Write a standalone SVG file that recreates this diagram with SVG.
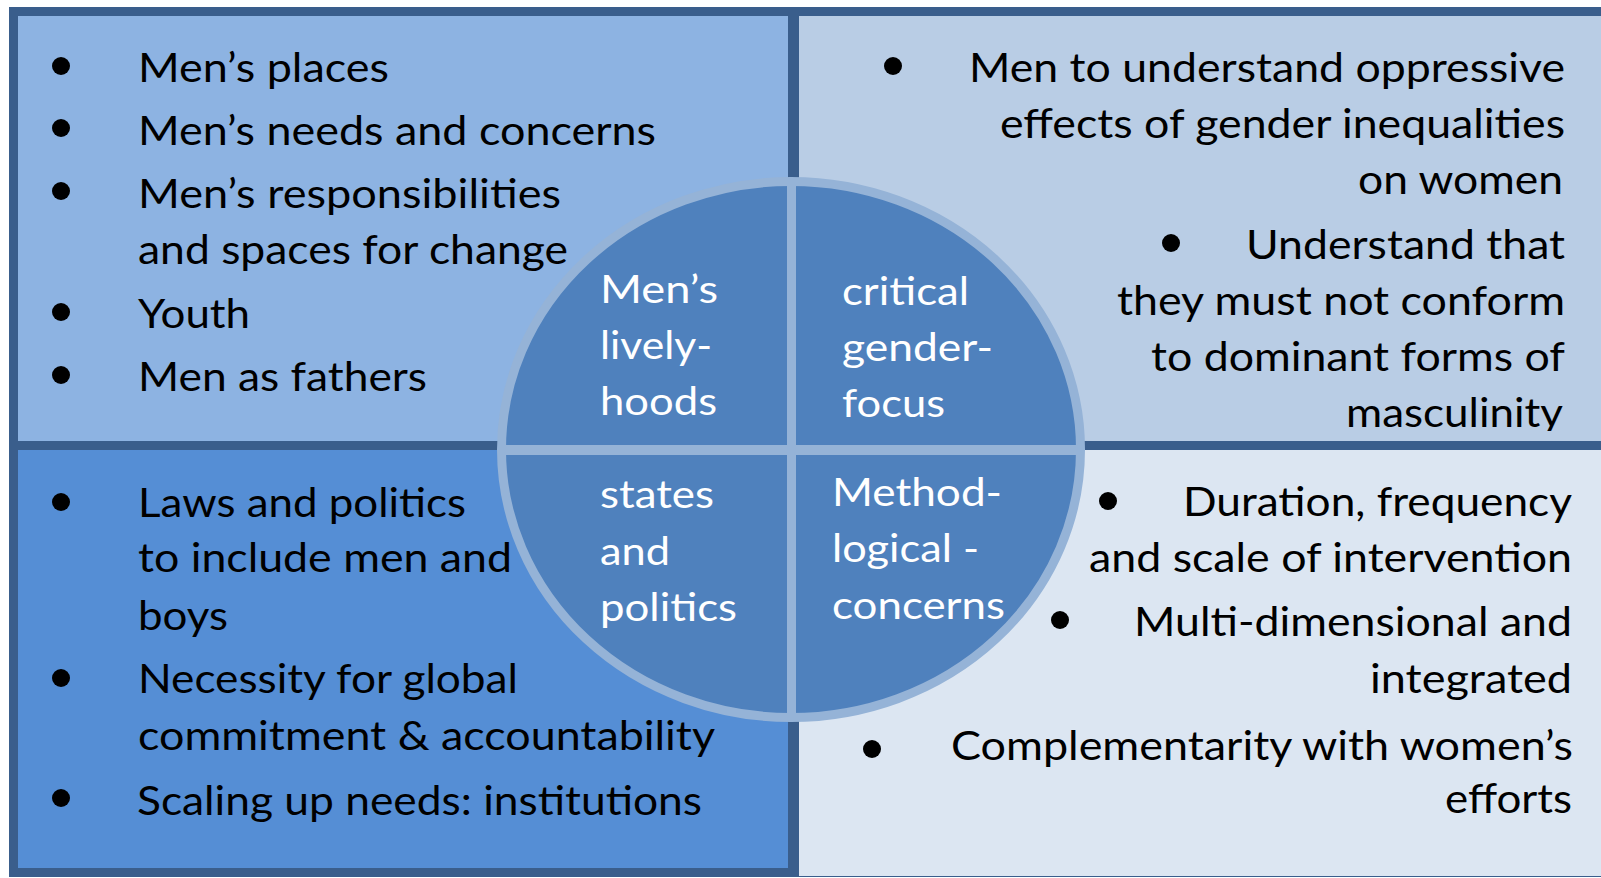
<svg xmlns="http://www.w3.org/2000/svg" width="1601" height="878" viewBox="0 0 1601 878">
<defs>
<style>
.t{font-family:Lato,"Open Sans","Liberation Sans",sans-serif;font-size:41px;fill:#000;}
.c{font-family:Lato,"Open Sans","Liberation Sans",sans-serif;font-size:39px;fill:#fff;}
.b{fill:#000;}
.dv{fill:#3a5e8c;}
.ring{stroke:#95b3d7;}
</style>
<clipPath id="clipTR"><rect x="799" y="16" width="802" height="415"/></clipPath>
</defs>
<rect x="0" y="0" width="1601" height="878" fill="#ffffff"/>
<g id="frame">
<rect x="13.5" y="11.5" width="1600" height="861" fill="#3a5e8c" stroke="#3a5e8c" stroke-width="9"/>
</g>
<g id="quad-tl">
<rect x="18" y="16" width="770" height="425" fill="#8db3e2"/>
<circle class="b" cx="61" cy="66" r="9"/>
<circle class="b" cx="61" cy="128" r="9"/>
<circle class="b" cx="61" cy="191" r="9"/>
<circle class="b" cx="61" cy="312" r="9"/>
<circle class="b" cx="61" cy="375" r="9"/>
<text class="t" x="138" y="82" textLength="251" lengthAdjust="spacingAndGlyphs">Men’s places</text>
<text class="t" x="138" y="145" textLength="518" lengthAdjust="spacingAndGlyphs">Men’s needs and concerns</text>
<text class="t" x="138" y="208" textLength="423" lengthAdjust="spacingAndGlyphs">Men’s responsibilities</text>
<text class="t" x="138" y="264" textLength="430" lengthAdjust="spacingAndGlyphs">and spaces for change</text>
<text class="t" x="138" y="328" textLength="112" lengthAdjust="spacingAndGlyphs">Youth</text>
<text class="t" x="138" y="391" textLength="289" lengthAdjust="spacingAndGlyphs">Men as fathers</text>
</g>
<g id="quad-tr">
<rect x="799" y="16" width="802" height="425" fill="#b9cde5"/>
<circle class="b" cx="893" cy="66" r="9"/>
<circle class="b" cx="1171" cy="243" r="9"/>
<g clip-path="url(#clipTR)">
<text class="t" x="969" y="82" textLength="596" lengthAdjust="spacingAndGlyphs">Men to understand oppressive</text>
<text class="t" x="1000" y="138" textLength="565" lengthAdjust="spacingAndGlyphs">effects of gender inequalities</text>
<text class="t" x="1358" y="194" textLength="205" lengthAdjust="spacingAndGlyphs">on women</text>
<text class="t" x="1246" y="259" textLength="319" lengthAdjust="spacingAndGlyphs">Understand that</text>
<text class="t" x="1117" y="315" textLength="448" lengthAdjust="spacingAndGlyphs">they must not conform</text>
<text class="t" x="1151" y="371" textLength="414" lengthAdjust="spacingAndGlyphs">to dominant forms of</text>
<text class="t" x="1346" y="427" textLength="217" lengthAdjust="spacingAndGlyphs">masculinity</text>
</g>
</g>
<g id="quad-bl">
<rect x="18" y="450" width="770" height="418" fill="#558ed5"/>
<circle class="b" cx="61" cy="502" r="9"/>
<circle class="b" cx="61" cy="678" r="9"/>
<circle class="b" cx="61" cy="798" r="9"/>
<text class="t" x="138" y="517" textLength="328" lengthAdjust="spacingAndGlyphs">Laws and politics</text>
<text class="t" x="138" y="572" textLength="374" lengthAdjust="spacingAndGlyphs">to include men and</text>
<text class="t" x="138" y="630" textLength="90" lengthAdjust="spacingAndGlyphs">boys</text>
<text class="t" x="138" y="693" textLength="380" lengthAdjust="spacingAndGlyphs">Necessity for global</text>
<text class="t" x="138" y="750" textLength="577" lengthAdjust="spacingAndGlyphs">commitment &amp; accountability</text>
<text class="t" x="137" y="815" textLength="565" lengthAdjust="spacingAndGlyphs">Scaling up needs: institutions</text>
</g>
<g id="quad-br">
<rect x="799" y="450" width="802" height="426" fill="#dce6f2"/>
<circle class="b" cx="1108" cy="501" r="9"/>
<circle class="b" cx="1060" cy="620" r="9"/>
<circle class="b" cx="872" cy="749" r="9"/>
<text class="t" x="1183" y="516" textLength="389" lengthAdjust="spacingAndGlyphs">Duration, frequency</text>
<text class="t" x="1089" y="572" textLength="483" lengthAdjust="spacingAndGlyphs">and scale of intervention</text>
<text class="t" x="1134" y="636" textLength="438" lengthAdjust="spacingAndGlyphs">Multi-dimensional and</text>
<text class="t" x="1370" y="693" textLength="202" lengthAdjust="spacingAndGlyphs">integrated</text>
<text class="t" x="951" y="760" textLength="622" lengthAdjust="spacingAndGlyphs">Complementarity with women’s</text>
<text class="t" x="1445" y="813" textLength="127" lengthAdjust="spacingAndGlyphs">efforts</text>
</g>
<g id="dividers">
<rect class="dv" x="788" y="16" width="11" height="852"/>
<rect class="dv" x="18" y="441" width="1583" height="9"/>
</g>
<g id="center-circle">
<ellipse cx="791" cy="449.5" rx="289.5" ry="268" fill="#4f81bd" class="ring" stroke-width="9"/>
<line class="ring" x1="791.5" y1="181" x2="791.5" y2="718" stroke-width="9"/>
<line class="ring" x1="501" y1="450" x2="1081" y2="450" stroke-width="10"/>
<text class="c" x="600" y="303" textLength="118" lengthAdjust="spacingAndGlyphs">Men’s</text>
<text class="c" x="600" y="359" textLength="112" lengthAdjust="spacingAndGlyphs">lively-</text>
<text class="c" x="600" y="415" textLength="117" lengthAdjust="spacingAndGlyphs">hoods</text>
<text class="c" x="842" y="305" textLength="127" lengthAdjust="spacingAndGlyphs">critical</text>
<text class="c" x="842" y="361" textLength="151" lengthAdjust="spacingAndGlyphs">gender-</text>
<text class="c" x="842" y="417" textLength="103" lengthAdjust="spacingAndGlyphs">focus</text>
<text class="c" x="600" y="508" textLength="114" lengthAdjust="spacingAndGlyphs">states</text>
<text class="c" x="600" y="565" textLength="70" lengthAdjust="spacingAndGlyphs">and</text>
<text class="c" x="600" y="621" textLength="137" lengthAdjust="spacingAndGlyphs">politics</text>
<text class="c" x="832" y="506" textLength="170" lengthAdjust="spacingAndGlyphs">Method-</text>
<text class="c" x="832" y="562" textLength="147" lengthAdjust="spacingAndGlyphs">logical -</text>
<text class="c" x="832" y="619" textLength="173" lengthAdjust="spacingAndGlyphs">concerns</text>
</g>
</svg>
